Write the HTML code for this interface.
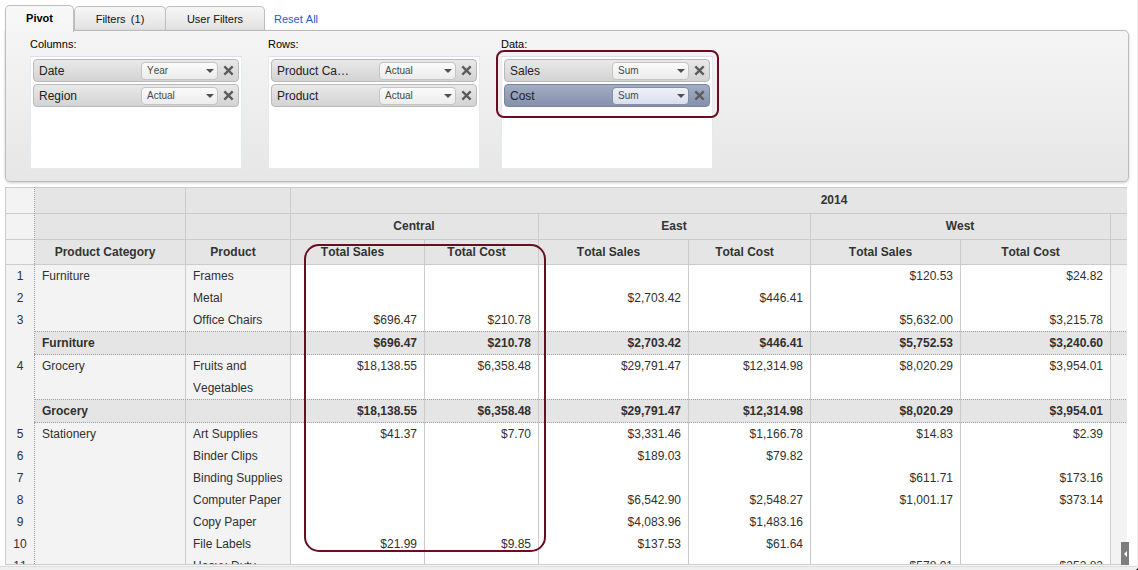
<!DOCTYPE html>
<html>
<head>
<meta charset="utf-8">
<title>Pivot</title>
<style>
*{box-sizing:border-box;margin:0;padding:0}
html,body{width:1138px;height:570px;overflow:hidden;background:#fff}
body{font-family:"Liberation Sans",sans-serif;font-size:12px;color:#222;position:relative;font-kerning:none}
.tab{position:absolute;top:6px;height:25px;border:1px solid #bdbdbd;border-bottom:1px solid #b4b4b4;border-radius:5px 5px 0 0;background:linear-gradient(#f6f6f6,#e2e2e2);font-size:11px;text-align:center;line-height:24px;color:#111}
.tab.active{top:5px;height:27px;background:linear-gradient(#f8f8f8,#f5f5f5);color:#000;border-bottom:none;font-weight:bold;z-index:3;line-height:24px}
.reset{position:absolute;left:274px;top:13px;font-size:11px;color:#1d5bcf}
#panel{position:absolute;left:5px;top:30px;width:1124px;height:152px;border:1px solid #bcbcbc;border-radius:0 5px 5px 5px;background:linear-gradient(#f5f5f5,#e6e6e6);box-shadow:0 1px 3px rgba(0,0,0,.2)}
.lbl{position:absolute;top:38px;font-size:11px;color:#000}
.drop{position:absolute;top:56px;width:212px;height:113px;background:#fff;border:1px solid #e4eaf4;border-top-color:#d9e0ed}
.item{position:absolute;left:2px;width:206px;height:23px;border:1px solid #b9b9b9;border-radius:4px;background:linear-gradient(#e9e9e9,#d3d3d3);font-size:12px;color:#222}
.item .nm{position:absolute;left:5px;top:4px;line-height:14px}
.item .sel{position:absolute;left:107px;top:2px;width:77px;height:18px;border:1px solid #c4c4c4;border-radius:4px;background:linear-gradient(#fbfbfb,#ececec);font-size:10px;line-height:15px;padding-left:5px;color:#484848}
.item .sel:after{content:"";position:absolute;right:3.5px;top:6px;border:4px solid transparent;border-top:4px solid #505050;border-bottom:none}
.item svg{position:absolute;left:188.5px;top:5px}
.item.on{background:linear-gradient(#a3adc4,#8590ab);border-color:#7a849c}
.item.on .sel{background:linear-gradient(#eef1f8,#dadfec);border-color:#858ea6}
#hl1{position:absolute;left:496px;top:50px;width:223px;height:68px;border:2px solid #680d22;border-radius:8px;z-index:5}
#hl2{position:absolute;left:304px;top:244px;width:242px;height:308px;border:2px solid #680d22;border-radius:15px;z-index:5}
#grid{position:absolute;left:5px;top:187px;width:1122px;height:378px;overflow:hidden;background:#fff}
.bg{position:absolute}
.c{position:absolute;font-size:12px;line-height:22px;height:22px;white-space:nowrap;color:#303030}
.h{font-weight:bold;text-align:center;color:#333}
.r{text-align:right}
.b{font-weight:bold}
.n{text-align:center}
.vl{position:absolute;width:1px;background:#cbcbcb}
.hl{position:absolute;height:1px;background:#cbcbcb}
.dl{position:absolute;height:0;border-top:1px dotted #a2a2a2}
.dv{position:absolute;width:0;border-left:1px dotted #9c9c9c}
</style>
</head>
<body>
<div class="tab active" style="left:5px;width:69px">Pivot</div>
<div class="tab" style="left:74px;width:92px"><span style="word-spacing:2.2px">Filters (1)</span></div>
<div class="tab" style="left:165px;width:100px">User Filters</div>
<div class="reset">Reset All</div>
<div id="panel"></div>
<div class="lbl" style="left:30px">Columns:</div>
<div class="lbl" style="left:268px">Rows:</div>
<div class="lbl" style="left:501px">Data:</div>
<div class="drop" style="left:30px">
<div class="item" style="top:2px"><span class="nm">Date</span><span class="sel">Year</span><svg width="11" height="11" viewBox="0 0 10 10"><path d="M1.2 1.2 L8.8 8.8 M8.8 1.2 L1.2 8.8" stroke="#5c5c5c" stroke-width="2.1" stroke-linecap="butt"/></svg></div>
<div class="item" style="top:27px"><span class="nm">Region</span><span class="sel">Actual</span><svg width="11" height="11" viewBox="0 0 10 10"><path d="M1.2 1.2 L8.8 8.8 M8.8 1.2 L1.2 8.8" stroke="#5c5c5c" stroke-width="2.1" stroke-linecap="butt"/></svg></div>
</div>
<div class="drop" style="left:268px">
<div class="item" style="top:2px"><span class="nm">Product Ca&hellip;</span><span class="sel">Actual</span><svg width="11" height="11" viewBox="0 0 10 10"><path d="M1.2 1.2 L8.8 8.8 M8.8 1.2 L1.2 8.8" stroke="#5c5c5c" stroke-width="2.1" stroke-linecap="butt"/></svg></div>
<div class="item" style="top:27px"><span class="nm">Product</span><span class="sel">Actual</span><svg width="11" height="11" viewBox="0 0 10 10"><path d="M1.2 1.2 L8.8 8.8 M8.8 1.2 L1.2 8.8" stroke="#5c5c5c" stroke-width="2.1" stroke-linecap="butt"/></svg></div>
</div>
<div class="drop" style="left:501px">
<div class="item" style="top:2px"><span class="nm">Sales</span><span class="sel">Sum</span><svg width="11" height="11" viewBox="0 0 10 10"><path d="M1.2 1.2 L8.8 8.8 M8.8 1.2 L1.2 8.8" stroke="#5c5c5c" stroke-width="2.1" stroke-linecap="butt"/></svg></div>
<div class="item on" style="top:27px"><span class="nm">Cost</span><span class="sel">Sum</span><svg width="11" height="11" viewBox="0 0 10 10"><path d="M1.2 1.2 L8.8 8.8 M8.8 1.2 L1.2 8.8" stroke="#5c5c5c" stroke-width="2.1" stroke-linecap="butt"/></svg></div>
</div>
<div id="hl1"></div>
<div id="grid">
<div class="bg" style="left:0px;top:0px;width:30px;height:400px;background:#f3f3f3"></div>
<div class="bg" style="left:30px;top:0px;width:1093px;height:78px;background:#e5e5e5"></div>
<div class="bg" style="left:30px;top:78px;width:255px;height:320px;background:#f3f3f3"></div>
<div class="bg" style="left:1106px;top:78px;width:17px;height:320px;background:#f3f3f3"></div>
<div class="bg" style="left:30px;top:144px;width:1093px;height:24px;background:#e5e5e5"></div>
<div class="bg" style="left:30px;top:212px;width:1093px;height:24px;background:#e5e5e5"></div>
<div class="vl" style="left:0px;top:0px;height:383px"></div>
<div class="hl" style="top:0px;left:0px;width:1123px"></div>
<div class="hl" style="top:26px;left:0px;width:29px"></div>
<div class="hl" style="top:26px;left:29px;width:1094px"></div>
<div class="hl" style="top:52px;left:0px;width:29px"></div>
<div class="hl" style="top:52px;left:29px;width:1094px"></div>
<div class="hl" style="top:77px;left:0px;width:1123px"></div>
<div class="dv" style="left:29px;top:0px;height:383px"></div>
<div class="vl" style="left:180px;top:0px;height:383px"></div>
<div class="vl" style="left:285px;top:0px;height:383px"></div>
<div class="vl" style="left:419px;top:52px;height:331px"></div>
<div class="vl" style="left:533px;top:26px;height:357px"></div>
<div class="vl" style="left:683px;top:52px;height:331px"></div>
<div class="vl" style="left:805px;top:26px;height:357px"></div>
<div class="vl" style="left:955px;top:52px;height:331px"></div>
<div class="vl" style="left:1105px;top:26px;height:357px"></div>
<div class="dl" style="top:144px;left:29px;width:1094px"></div>
<div class="dl" style="top:167px;left:29px;width:1094px"></div>
<div class="dl" style="top:212px;left:29px;width:1094px"></div>
<div class="dl" style="top:235px;left:29px;width:1094px"></div>
<div class="c h" style="left:285px;top:2px;width:1088px">2014</div>
<div class="c h" style="left:285px;top:28px;width:248px">Central</div>
<div class="c h" style="left:533px;top:28px;width:272px">East</div>
<div class="c h" style="left:805px;top:28px;width:300px">West</div>
<div class="c h" style="left:24.5px;top:54px;width:151px">Product Category</div>
<div class="c h" style="left:175.5px;top:54px;width:105px">Product</div>
<div class="c h" style="left:280.5px;top:54px;width:134px">Total Sales</div>
<div class="c h" style="left:414.5px;top:54px;width:114px">Total Cost</div>
<div class="c h" style="left:528.5px;top:54px;width:150px">Total Sales</div>
<div class="c h" style="left:678.5px;top:54px;width:122px">Total Cost</div>
<div class="c h" style="left:800.5px;top:54px;width:150px">Total Sales</div>
<div class="c h" style="left:950.5px;top:54px;width:150px">Total Cost</div>
<div class="c n" style="left:1px;top:78px;width:28px">1</div>
<div class="c " style="left:37px;top:78px;width:140px">Furniture</div>
<div class="c " style="left:188px;top:78px;width:96px">Frames</div>
<div class="c r" style="left:805px;top:78px;width:143px">$120.53</div>
<div class="c r" style="left:955px;top:78px;width:143px">$24.82</div>
<div class="c n" style="left:1px;top:100px;width:28px">2</div>
<div class="c " style="left:188px;top:100px;width:96px">Metal</div>
<div class="c r" style="left:533px;top:100px;width:143px">$2,703.42</div>
<div class="c r" style="left:683px;top:100px;width:115px">$446.41</div>
<div class="c n" style="left:1px;top:122px;width:28px">3</div>
<div class="c " style="left:188px;top:122px;width:96px">Office Chairs</div>
<div class="c r" style="left:285px;top:122px;width:127px">$696.47</div>
<div class="c r" style="left:419px;top:122px;width:107px">$210.78</div>
<div class="c r" style="left:805px;top:122px;width:143px">$5,632.00</div>
<div class="c r" style="left:955px;top:122px;width:143px">$3,215.78</div>
<div class="c b" style="left:37px;top:145px;width:140px">Furniture</div>
<div class="c r b" style="left:285px;top:145px;width:127px">$696.47</div>
<div class="c r b" style="left:419px;top:145px;width:107px">$210.78</div>
<div class="c r b" style="left:533px;top:145px;width:143px">$2,703.42</div>
<div class="c r b" style="left:683px;top:145px;width:115px">$446.41</div>
<div class="c r b" style="left:805px;top:145px;width:143px">$5,752.53</div>
<div class="c r b" style="left:955px;top:145px;width:143px">$3,240.60</div>
<div class="c n" style="left:1px;top:168px;width:28px">4</div>
<div class="c " style="left:37px;top:168px;width:140px">Grocery</div>
<div class="c " style="left:188px;top:168px;width:96px">Fruits and</div>
<div class="c " style="left:188px;top:190px;width:96px">Vegetables</div>
<div class="c r" style="left:285px;top:168px;width:127px">$18,138.55</div>
<div class="c r" style="left:419px;top:168px;width:107px">$6,358.48</div>
<div class="c r" style="left:533px;top:168px;width:143px">$29,791.47</div>
<div class="c r" style="left:683px;top:168px;width:115px">$12,314.98</div>
<div class="c r" style="left:805px;top:168px;width:143px">$8,020.29</div>
<div class="c r" style="left:955px;top:168px;width:143px">$3,954.01</div>
<div class="c b" style="left:37px;top:213px;width:140px">Grocery</div>
<div class="c r b" style="left:285px;top:213px;width:127px">$18,138.55</div>
<div class="c r b" style="left:419px;top:213px;width:107px">$6,358.48</div>
<div class="c r b" style="left:533px;top:213px;width:143px">$29,791.47</div>
<div class="c r b" style="left:683px;top:213px;width:115px">$12,314.98</div>
<div class="c r b" style="left:805px;top:213px;width:143px">$8,020.29</div>
<div class="c r b" style="left:955px;top:213px;width:143px">$3,954.01</div>
<div class="c n" style="left:1px;top:236px;width:28px">5</div>
<div class="c " style="left:37px;top:236px;width:140px">Stationery</div>
<div class="c " style="left:188px;top:236px;width:96px">Art Supplies</div>
<div class="c r" style="left:285px;top:236px;width:127px">$41.37</div>
<div class="c r" style="left:419px;top:236px;width:107px">$7.70</div>
<div class="c r" style="left:533px;top:236px;width:143px">$3,331.46</div>
<div class="c r" style="left:683px;top:236px;width:115px">$1,166.78</div>
<div class="c r" style="left:805px;top:236px;width:143px">$14.83</div>
<div class="c r" style="left:955px;top:236px;width:143px">$2.39</div>
<div class="c n" style="left:1px;top:258px;width:28px">6</div>
<div class="c " style="left:188px;top:258px;width:96px">Binder Clips</div>
<div class="c r" style="left:533px;top:258px;width:143px">$189.03</div>
<div class="c r" style="left:683px;top:258px;width:115px">$79.82</div>
<div class="c n" style="left:1px;top:280px;width:28px">7</div>
<div class="c " style="left:188px;top:280px;width:96px">Binding Supplies</div>
<div class="c r" style="left:805px;top:280px;width:143px">$611.71</div>
<div class="c r" style="left:955px;top:280px;width:143px">$173.16</div>
<div class="c n" style="left:1px;top:302px;width:28px">8</div>
<div class="c " style="left:188px;top:302px;width:96px">Computer Paper</div>
<div class="c r" style="left:533px;top:302px;width:143px">$6,542.90</div>
<div class="c r" style="left:683px;top:302px;width:115px">$2,548.27</div>
<div class="c r" style="left:805px;top:302px;width:143px">$1,001.17</div>
<div class="c r" style="left:955px;top:302px;width:143px">$373.14</div>
<div class="c n" style="left:1px;top:324px;width:28px">9</div>
<div class="c " style="left:188px;top:324px;width:96px">Copy Paper</div>
<div class="c r" style="left:533px;top:324px;width:143px">$4,083.96</div>
<div class="c r" style="left:683px;top:324px;width:115px">$1,483.16</div>
<div class="c n" style="left:1px;top:346px;width:28px">10</div>
<div class="c " style="left:188px;top:346px;width:96px">File Labels</div>
<div class="c r" style="left:285px;top:346px;width:127px">$21.99</div>
<div class="c r" style="left:419px;top:346px;width:107px">$9.85</div>
<div class="c r" style="left:533px;top:346px;width:143px">$137.53</div>
<div class="c r" style="left:683px;top:346px;width:115px">$61.64</div>
<div class="c n" style="left:1px;top:368px;width:28px">11</div>
<div class="c " style="left:188px;top:368px;width:96px">Heavy-Duty</div>
<div class="c r" style="left:805px;top:368px;width:143px">$578.01</div>
<div class="c r" style="left:955px;top:368px;width:143px">$252.82</div>
</div>
<div id="hl2"></div>
<div style="position:absolute;left:5px;top:564px;width:1124px;height:1px;background:#cbcbcb"></div>
<div style="position:absolute;left:0;top:565px;width:1137px;height:5px;background:#efefef;border-top:1px solid #f8f8f8"></div>
<div style="position:absolute;left:0;top:566px;width:1137px;height:1px;background:#dcdcdc"></div>
<div style="position:absolute;left:1121px;top:542px;width:8px;height:23px;background:#7d7d7d;z-index:6"><div style="position:absolute;left:2.5px;top:9px;border:3px solid transparent;border-right:3.5px solid #fff;border-left:none"></div></div>
<div style="position:absolute;left:1137px;top:0;width:1px;height:570px;background:#ededed"></div>
<div style="position:absolute;left:1136px;top:568px;border:1.5px solid transparent;border-right-color:#111;border-bottom-color:#111"></div>
</body>
</html>
